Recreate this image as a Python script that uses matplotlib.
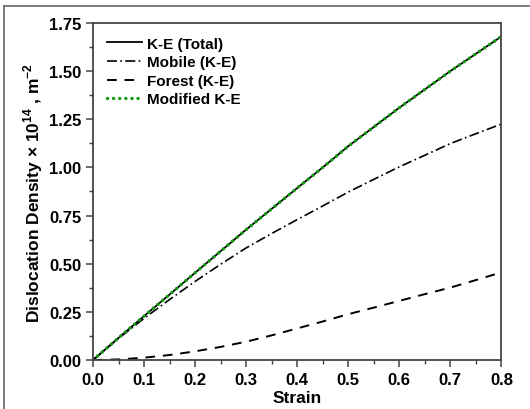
import numpy as np
import matplotlib
matplotlib.use("Agg")
import matplotlib.pyplot as plt
from matplotlib.ticker import MultipleLocator
from matplotlib.lines import Line2D

plt.rcParams['font.family'] = ['Liberation Sans', 'DejaVu Sans']
plt.rcParams['font.weight'] = 'bold'
plt.rcParams['mathtext.fontset'] = 'custom'
plt.rcParams['mathtext.rm'] = 'Liberation Sans:bold'
plt.rcParams['mathtext.bf'] = 'Liberation Sans:bold'

# values
strain = [0.0, 0.05, 0.1, 0.15, 0.2, 0.25, 0.3, 0.35, 0.4, 0.45, 0.5,
          0.55, 0.6, 0.65, 0.7, 0.75, 0.8]
total = [0.0, 0.115, 0.228, 0.34, 0.453, 0.565, 0.677, 0.785, 0.893, 1.0,
         1.11, 1.21, 1.31, 1.405, 1.5, 1.59, 1.68]
mobile = [0.0, 0.112, 0.216, 0.314, 0.408, 0.497, 0.582, 0.657, 0.729, 0.8,
          0.872, 0.938, 1.003, 1.063, 1.124, 1.175, 1.225]
forest = [0.0, 0.003, 0.012, 0.026, 0.045, 0.068, 0.095, 0.128, 0.164, 0.2,
          0.238, 0.272, 0.307, 0.342, 0.376, 0.415, 0.455]
modified = [0.0, 0.115, 0.228, 0.34, 0.453, 0.565, 0.677, 0.785, 0.893, 1.0,
            1.11, 1.21, 1.31, 1.405, 1.5, 1.59, 1.68]

fig = plt.figure(figsize=(5.3, 4.1), dpi=100)
ax = fig.add_axes([0.1755, 0.1195, 0.7705, 0.822])

ax.plot(strain, total, color='black', lw=1.3, label='K-E (Total)')
ax.plot(strain, mobile, color='black', lw=1.2, linestyle=(0, (6, 2, 1, 2)),
        label='Mobile (K-E)')
ax.plot(strain, forest, color='black', lw=1.4, linestyle=(0, (5, 4)),
        label='Forest (K-E)')
ax.plot(strain, modified, color='#129c12', lw=2.5, linestyle=(0, (0.01, 1.75)),
        dash_capstyle='round', label='Modified K-E')

ax.set_xlim(0, 0.8)
ax.set_ylim(0, 1.75)
ax.xaxis.set_major_locator(MultipleLocator(0.1))
ax.xaxis.set_minor_locator(MultipleLocator(0.05))
ax.yaxis.set_major_locator(MultipleLocator(0.25))
ax.yaxis.set_minor_locator(MultipleLocator(0.125))
ax.set_xticklabels(['%.1f' % v for v in ax.get_xticks()])
ax.set_yticklabels(['%.2f' % v for v in ax.get_yticks()])
ax.tick_params(which='both', direction='out', color='#444444', labelsize=12,
               top=False, right=False)
ax.tick_params(which='major', length=5, width=1.1)
ax.tick_params(which='minor', length=3, width=1.0)
for s in ax.spines.values():
    s.set_color('#444444')
    s.set_linewidth(1.3)

ax.set_xlabel('Strain', fontsize=12.5, fontweight='bold', labelpad=2)
ax.set_ylabel(r'Dislocation Density $\times$ 10$^{14}$ , m$^{-2}$',
              fontsize=12.5, fontweight='bold', labelpad=3)

leg = ax.legend(loc='upper left', frameon=False, fontsize=11, handlelength=2.3,
                handletextpad=0.35, labelspacing=0.3,
                bbox_to_anchor=(0.0, 1.0))

# outer frame of the picture
fig.add_artist(Line2D([4 / 530, 4 / 530], [0, 1 - 7 / 410], color='#666666',
                      lw=1.2, transform=fig.transFigure))
fig.add_artist(Line2D([4 / 530, 1], [1 - 7 / 410, 1 - 7 / 410], color='#666666',
                      lw=1.2, transform=fig.transFigure))

fig.savefig('out.png', dpi=100)
